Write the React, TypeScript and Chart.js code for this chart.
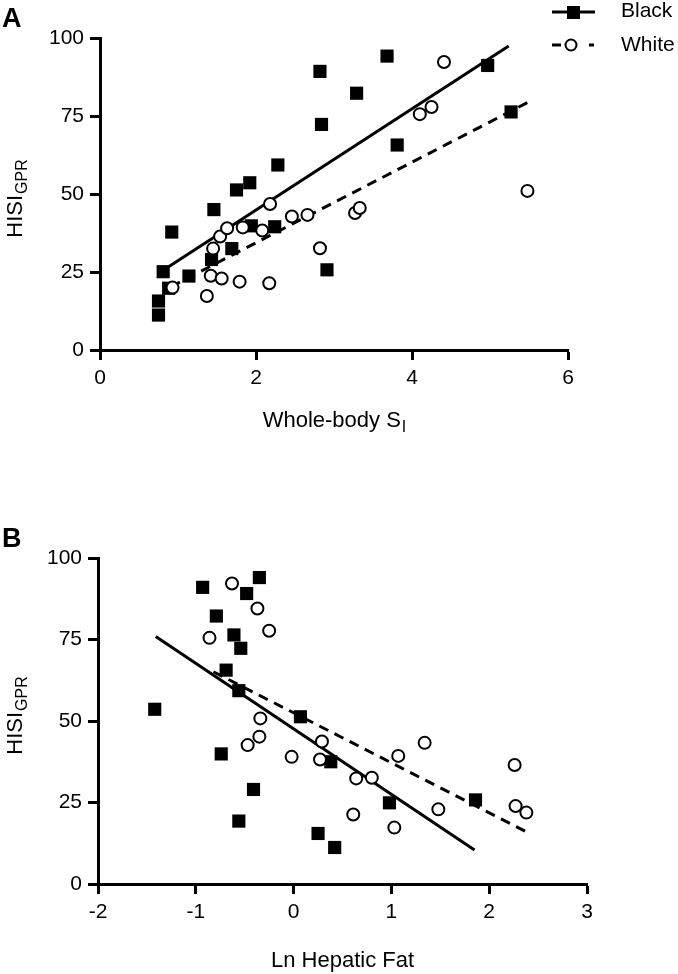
import React, { useEffect, useRef } from "react";
import { Chart, registerables } from "chart.js";

Chart.register(...registerables);

const FONT = '"Liberation Sans", Arial, Helvetica, sans-serif';

// ---------- Panel A: HISI_GPR vs whole-body SI ----------
const aBlackSI = [0.75, 0.75, 0.81, 0.88, 0.92, 1.14, 1.43, 1.46, 1.69, 1.75, 1.92, 1.94, 2.24, 2.28, 2.82, 2.84, 2.91, 3.29, 3.68, 3.81, 4.97, 5.27];
const aBlackHISI = [11.2, 15.7, 25.1, 19.8, 37.8, 23.7, 29.0, 45.0, 32.5, 51.3, 53.6, 39.8, 39.5, 59.3, 89.3, 72.3, 25.7, 82.3, 94.2, 65.7, 91.2, 76.3];
const aWhiteSI = [0.93, 1.37, 1.42, 1.45, 1.54, 1.56, 1.63, 1.79, 1.83, 2.08, 2.17, 2.18, 2.46, 2.66, 2.82, 3.27, 3.33, 4.10, 4.25, 4.41, 5.48];
const aWhiteHISI = [20.0, 17.3, 23.8, 32.5, 36.4, 22.9, 39.0, 21.9, 39.3, 38.3, 21.4, 46.8, 42.8, 43.3, 32.6, 43.9, 45.5, 75.6, 77.9, 92.3, 51.0];
const aBlackFitSI = [0.85, 5.24];
const aBlackFitHISI = [26.2, 97.4];
const aWhiteFitSI = [0.91, 5.48];
const aWhiteFitHISI = [20.3, 79.3];

// ---------- Panel B: HISI_GPR vs Ln hepatic fat ----------
const bBlackLnFat = [-1.42, -0.93, -0.79, -0.35, -0.48, -0.61, -0.54, -0.69, -0.56, -0.74, -0.41, -0.56, 0.07, 0.25, 0.38, 0.42, 0.98, 1.86];
const bBlackHISI = [53.6, 91.0, 82.2, 94.0, 89.1, 76.4, 72.3, 65.6, 59.3, 39.9, 29.0, 19.3, 51.3, 15.5, 37.5, 11.2, 24.9, 25.8];
const bWhiteLnFat = [-0.86, -0.63, -0.37, -0.25, -0.47, -0.35, -0.34, -0.02, 0.27, 0.29, 0.61, 0.64, 0.80, 1.03, 1.07, 1.34, 1.48, 2.26, 2.27, 2.38];
const bWhiteHISI = [75.5, 92.2, 84.5, 77.7, 42.6, 45.2, 50.8, 39.0, 38.2, 43.7, 21.3, 32.4, 32.6, 17.3, 39.3, 43.3, 22.9, 36.5, 23.9, 21.9];
const bBlackFitLnFat = [-1.41, 1.85];
const bBlackFitHISI = [75.9, 10.4];
const bWhiteFitLnFat = [-0.82, 2.38];
const bWhiteFitHISI = [65.1, 16.0];

// ---------- Axes / labels ----------
const aXRange = [0, 6];
const aXStep = 2;
const bXRange = [-2, 3];
const bXStep = 1;
const yRange = [0, 100];
const yStep = 25;
const legendLabels = ["Black", "White"];
const yTitleMain = "HISI";
const yTitleSub = "GPR";
const aXTitleMain = "Whole-body S";
const aXTitleSub = "I";
const bXTitleMain = "Ln Hepatic Fat";

const pts = (xs: number[], ys: number[]) => xs.map((x, i) => ({ x, y: ys[i] }));

type PanelProps = {
  top: number;
  label: string;
  blackX: number[];
  blackY: number[];
  whiteX: number[];
  whiteY: number[];
  bFitX: number[];
  bFitY: number[];
  wFitX: number[];
  wFitY: number[];
  xRange: number[];
  xStep: number;
  xTitleMain: string;
  xTitleSub: string;
  layout: { top: number; right: number; bottom: number; yWidth: number; xHeight: number };
  xTitleBaseline: number;
  yTitleX: number;
  yTitleCenter: number;
  labelBaseline: number;
  showLegend: boolean;
};

const W = 678;
const H = 487;

function drawSubText(ctx: CanvasRenderingContext2D, main: string, sub: string, cx: number, baseline: number) {
  ctx.font = `22px ${FONT}`;
  const w1 = ctx.measureText(main).width;
  ctx.font = `16px ${FONT}`;
  const w2 = sub ? ctx.measureText(sub).width : 0;
  const start = cx - (w1 + w2) / 2;
  ctx.textAlign = "left";
  ctx.textBaseline = "alphabetic";
  ctx.font = `22px ${FONT}`;
  ctx.fillText(main, start, baseline);
  if (sub) {
    ctx.font = `16px ${FONT}`;
    ctx.fillText(sub, start + w1 + 1, baseline + 5);
  }
}

function Panel(p: PanelProps) {
  const ref = useRef<HTMLCanvasElement | null>(null);
  useEffect(() => {
    if (!ref.current) return;
    const decor = {
      id: "decor",
      afterDraw(chart: any) {
        const ctx: CanvasRenderingContext2D = chart.ctx;
        const area = chart.chartArea;
        ctx.save();
        ctx.fillStyle = "#000";
        ctx.strokeStyle = "#000";
        // panel letter
        ctx.font = `bold 27px ${FONT}`;
        ctx.textAlign = "left";
        ctx.textBaseline = "alphabetic";
        ctx.fillText(p.label, 2, p.labelBaseline);
        // x title
        drawSubText(ctx, p.xTitleMain, p.xTitleSub, (area.left + area.right) / 2, p.xTitleBaseline);
        // y title
        ctx.save();
        ctx.translate(p.yTitleX, p.yTitleCenter);
        ctx.rotate(-Math.PI / 2);
        drawSubText(ctx, yTitleMain, yTitleSub, 0, 0);
        ctx.restore();
        // legend
        if (p.showLegend) {
          ctx.lineWidth = 3;
          ctx.setLineDash([]);
          ctx.beginPath();
          ctx.moveTo(552, 12);
          ctx.lineTo(595, 12);
          ctx.stroke();
          ctx.fillRect(567, 6, 13, 13);
          ctx.beginPath();
          ctx.moveTo(552, 45);
          ctx.lineTo(561, 45);
          ctx.moveTo(589, 45);
          ctx.lineTo(594, 45);
          ctx.stroke();
          ctx.beginPath();
          ctx.lineWidth = 2;
          ctx.arc(571, 45, 5.5, 0, Math.PI * 2);
          ctx.fillStyle = "#fff";
          ctx.fill();
          ctx.stroke();
          ctx.fillStyle = "#000";
          ctx.font = `21px ${FONT}`;
          ctx.textBaseline = "middle";
          ctx.fillText(legendLabels[0], 621, 11);
          ctx.fillText(legendLabels[1], 621, 45);
        }
        ctx.restore();
      },
    };
    const axisCommon = {
      type: "linear" as const,
      border: { display: true, color: "#000", width: 3 },
      grid: {
        display: true,
        drawOnChartArea: false,
        drawTicks: true,
        tickLength: 10,
        tickWidth: 3,
        tickColor: "#000",
      },
    };
    const chart = new Chart(ref.current, {
      type: "scatter",
      data: {
        datasets: [
          {
            label: "White",
            data: pts(p.whiteX, p.whiteY),
            pointStyle: "circle",
            pointRadius: 6,
            pointBorderWidth: 2,
            pointBackgroundColor: "#fff",
            pointBorderColor: "#000",
            showLine: false,
            order: 1,
          },
          {
            label: "Black",
            data: pts(p.blackX, p.blackY),
            pointStyle: "rect",
            pointRadius: 9.3,
            pointBorderWidth: 0,
            pointBackgroundColor: "#000",
            pointBorderColor: "#000",
            showLine: false,
            order: 2,
          },
          {
            label: "Black fit",
            data: pts(p.bFitX, p.bFitY),
            showLine: true,
            borderColor: "#000",
            borderWidth: 3,
            pointRadius: 0,
            order: 3,
          },
          {
            label: "White fit",
            data: pts(p.wFitX, p.wFitY),
            showLine: true,
            borderColor: "#000",
            borderWidth: 3,
            borderDash: [10, 7],
            pointRadius: 0,
            order: 4,
          },
        ],
      },
      options: {
        animation: false,
        responsive: false,
        devicePixelRatio: 1,
        layout: { padding: { top: p.layout.top, right: p.layout.right, bottom: p.layout.bottom, left: 0 } },
        plugins: { legend: { display: false }, tooltip: { enabled: false }, title: { display: false } },
        scales: {
          x: {
            ...axisCommon,
            position: "bottom",
            min: p.xRange[0],
            max: p.xRange[1],
            ticks: {
              stepSize: p.xStep,
              color: "#000",
              font: { family: FONT, size: 21 },
              padding: 6,
              maxRotation: 0,
              autoSkip: false,
            },
            afterFit: (s: any) => {
              s.height = p.layout.xHeight;
            },
          },
          y: {
            ...axisCommon,
            position: "left",
            min: yRange[0],
            max: yRange[1],
            ticks: {
              stepSize: yStep,
              color: "#000",
              font: { family: FONT, size: 21 },
              padding: 6,
            },
            afterFit: (s: any) => {
              s.width = p.layout.yWidth;
            },
          },
        },
      },
      plugins: [decor],
    } as any);
    return () => chart.destroy();
  }, []);
  return (
    <canvas
      ref={ref}
      width={W}
      height={H}
      style={{ position: "absolute", left: 0, top: p.top, width: W, height: H, display: "block" }}
    />
  );
}

export default function App() {
  return (
    <div style={{ position: "absolute", left: 0, top: 0, width: 678, height: 974, background: "#fff" }}>
      <Panel
        top={0}
        label="A"
        blackX={aBlackSI}
        blackY={aBlackHISI}
        whiteX={aWhiteSI}
        whiteY={aWhiteHISI}
        bFitX={aBlackFitSI}
        bFitY={aBlackFitHISI}
        wFitX={aWhiteFitSI}
        wFitY={aWhiteFitHISI}
        xRange={aXRange}
        xStep={aXStep}
        xTitleMain={aXTitleMain}
        xTitleSub={aXTitleSub}
        layout={{ top: 38, right: 110, bottom: 57, yWidth: 100, xHeight: 80 }}
        xTitleBaseline={427}
        yTitleX={22}
        yTitleCenter={199}
        labelBaseline={27}
        showLegend={true}
      />
      <Panel
        top={487}
        label="B"
        blackX={bBlackLnFat}
        blackY={bBlackHISI}
        whiteX={bWhiteLnFat}
        whiteY={bWhiteHISI}
        bFitX={bBlackFitLnFat}
        bFitY={bBlackFitHISI}
        wFitX={bWhiteFitLnFat}
        wFitY={bWhiteFitHISI}
        xRange={bXRange}
        xStep={bXStep}
        xTitleMain={bXTitleMain}
        xTitleSub=""
        layout={{ top: 71, right: 91, bottom: 10, yWidth: 98, xHeight: 80 }}
        xTitleBaseline={480}
        yTitleX={22}
        yTitleCenter={229}
        labelBaseline={60}
        showLegend={false}
      />
    </div>
  );
}
